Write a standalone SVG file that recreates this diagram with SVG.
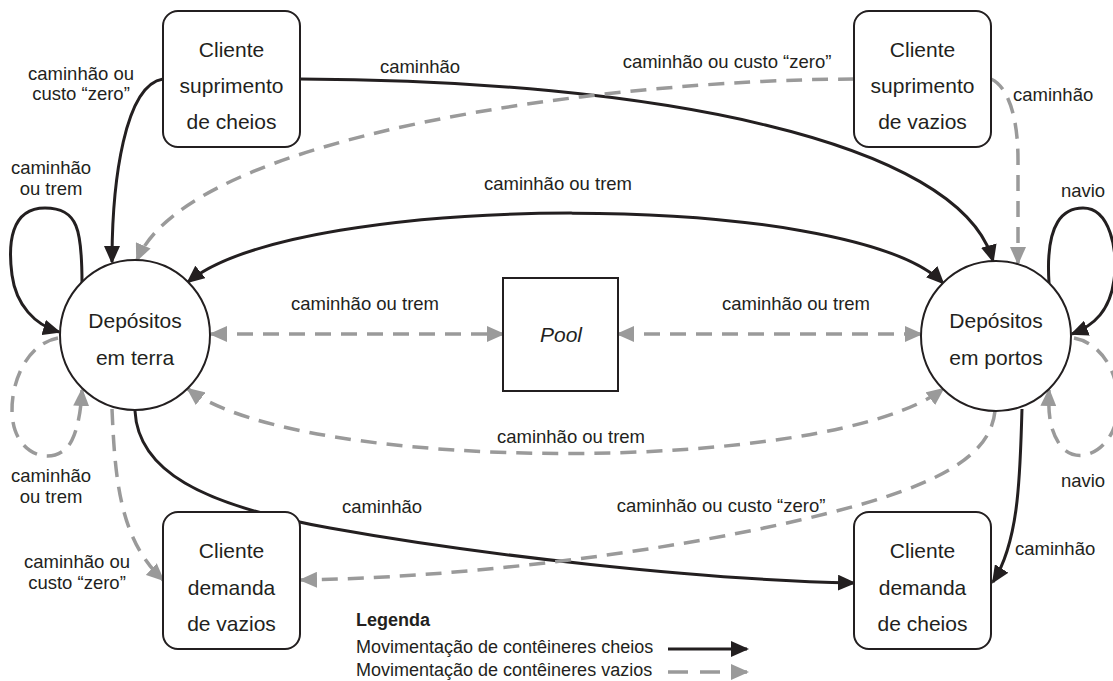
<svg xmlns="http://www.w3.org/2000/svg" width="1113" height="681" viewBox="0 0 1113 681">
<defs>
<style>
text{font-family:"Liberation Sans",Arial,sans-serif;fill:#231f20}
.lbl{font-size:18.5px}
.leg{font-size:18px}
.nt{font-size:21px;text-anchor:middle}
.mid{text-anchor:middle}
.box{fill:#fff;stroke:#231f20;stroke-width:2}
.full{fill:none;stroke:#231f20;stroke-width:3}
.empty{fill:none;stroke:#9a9a9a;stroke-width:3.5;stroke-dasharray:16 10}
</style>
<marker id="ab" markerUnits="userSpaceOnUse" markerWidth="18" markerHeight="16" viewBox="0 0 18 16" refX="16" refY="8" orient="auto-start-reverse">
<path d="M0,0 L18,8 L0,16 z" fill="#231f20"/>
</marker>
<marker id="ag" markerUnits="userSpaceOnUse" markerWidth="18" markerHeight="16" viewBox="0 0 18 16" refX="16" refY="8" orient="auto-start-reverse">
<path d="M0,0 L18,8 L0,16 z" fill="#9a9a9a"/>
</marker>
</defs>
<rect width="1113" height="681" fill="#fff"/>

<g id="connectors">
<path class="full" marker-end="url(#ab)" d="M163,79 C125,85 112,180 112,262"/>
<path class="full" marker-end="url(#ab)" d="M82,283 C82,230 78,208 45,208 C10,208 8,245 12,275 C16,305 35,325 59,332"/>
<path class="empty" marker-end="url(#ag)" d="M58,338 C20,345 5,400 15,430 C25,460 60,465 72,440 C78,428 81,410 82,390"/>
<path class="full" marker-end="url(#ab)" d="M300,79 C650,80 960,140 993,261"/>
<path class="empty" marker-end="url(#ag)" d="M854,79 C600,80 190,135 137,260"/>
<path class="empty" marker-end="url(#ag)" d="M991,79 C1005,85 1018,110 1018,160 L1018,263"/>
<path class="full" marker-start="url(#ab)" marker-end="url(#ab)" d="M943,283 C850,190 300,190 188,282"/>
<path class="empty" marker-start="url(#ag)" marker-end="url(#ag)" d="M211,334 L503,334"/>
<path class="empty" marker-start="url(#ag)" marker-end="url(#ag)" d="M618,334 L921,334"/>
<path class="empty" marker-start="url(#ag)" marker-end="url(#ag)" d="M188,389 C300,475 830,475 943,389"/>
<path class="full" marker-end="url(#ab)" d="M135,411 C138,470 200,505 330,528 C480,555 700,580 854,583"/>
<path class="empty" marker-end="url(#ag)" d="M995,411 C990,460 930,490 800,520 C650,555 450,578 301,580"/>
<path class="full" marker-end="url(#ab)" d="M1022,409 C1020,470 1020,540 993,582"/>
<path class="full" marker-end="url(#ab)" d="M1049,283 C1045,220 1065,208 1083,208 C1110,208 1118,250 1114,280 C1110,310 1095,325 1072,334"/>
<path class="empty" marker-end="url(#ag)" d="M1074,338 C1110,345 1125,390 1115,425 C1105,455 1075,465 1060,445 C1050,430 1048,415 1049,390"/>
<path class="empty" marker-end="url(#ag)" d="M112,409 C115,480 120,540 163,580"/>
</g>

<g id="labels">
<text class="lbl mid" x="81" y="80">caminhão ou</text>
<text class="lbl mid" x="81" y="100">custo “zero”</text>
<text class="lbl mid" x="51" y="174">caminhão</text>
<text class="lbl mid" x="51" y="195">ou trem</text>
<text class="lbl mid" x="420" y="73">caminhão</text>
<text class="lbl mid" x="727" y="68">caminhão ou custo “zero”</text>
<text class="lbl" x="1013" y="101">caminhão</text>
<text class="lbl mid" x="1083" y="197">navio</text>
<text class="lbl mid" x="558" y="190">caminhão ou trem</text>
<text class="lbl mid" x="365" y="310">caminhão ou trem</text>
<text class="lbl mid" x="796" y="310">caminhão ou trem</text>
<text class="lbl mid" x="571" y="443">caminhão ou trem</text>
<text class="lbl mid" x="51" y="482">caminhão</text>
<text class="lbl mid" x="51" y="503">ou trem</text>
<text class="lbl mid" x="1083" y="487">navio</text>
<text class="lbl mid" x="382" y="513">caminhão</text>
<text class="lbl mid" x="721" y="512">caminhão ou custo “zero”</text>
<text class="lbl" x="1015" y="555">caminhão</text>
<text class="lbl mid" x="77" y="568">caminhão ou</text>
<text class="lbl mid" x="77" y="589">custo “zero”</text>
</g>

<g id="n-suprimento-cheios">
<rect class="box" x="163" y="11" width="137" height="136" rx="15"/>
<text class="nt" x="231.5" y="57">Cliente</text>
<text class="nt" x="231.5" y="93">suprimento</text>
<text class="nt" x="231.5" y="129">de cheios</text>
</g>
<g id="n-suprimento-vazios">
<rect class="box" x="854" y="11" width="137" height="136" rx="15"/>
<text class="nt" x="922.5" y="57">Cliente</text>
<text class="nt" x="922.5" y="93">suprimento</text>
<text class="nt" x="922.5" y="129">de vazios</text>
</g>
<g id="n-demanda-vazios">
<rect class="box" x="163" y="512" width="137" height="137" rx="15"/>
<text class="nt" x="231.5" y="558">Cliente</text>
<text class="nt" x="231.5" y="595">demanda</text>
<text class="nt" x="231.5" y="631">de vazios</text>
</g>
<g id="n-demanda-cheios">
<rect class="box" x="854" y="512" width="137" height="137" rx="15"/>
<text class="nt" x="922.5" y="558">Cliente</text>
<text class="nt" x="922.5" y="595">demanda</text>
<text class="nt" x="922.5" y="631">de cheios</text>
</g>
<g id="n-depositos-terra">
<circle class="box" cx="135" cy="335" r="75"/>
<text class="nt" x="135" y="328">Depósitos</text>
<text class="nt" x="135" y="365">em terra</text>
</g>
<g id="n-depositos-portos">
<circle class="box" cx="996" cy="336" r="75"/>
<text class="nt" x="996" y="328">Depósitos</text>
<text class="nt" x="996" y="365">em portos</text>
</g>
<g id="n-pool">
<rect class="box" x="503" y="278" width="115" height="113"/>
<text class="nt" x="561" y="342" font-style="italic">Pool</text>
</g>

<g id="legend">
<text x="356" y="626" style="font-size:18px;font-weight:bold">Legenda</text>
<text class="leg" x="356" y="653">Movimentação de contêineres cheios</text>
<text class="leg" x="356" y="676">Movimentação de contêineres vazios</text>
<path class="full" marker-end="url(#ab)" d="M668,649 L747,649"/>
<path class="empty" style="stroke-dasharray:20 12" marker-end="url(#ag)" d="M668,672 L747,672"/>
</g>
</svg>
